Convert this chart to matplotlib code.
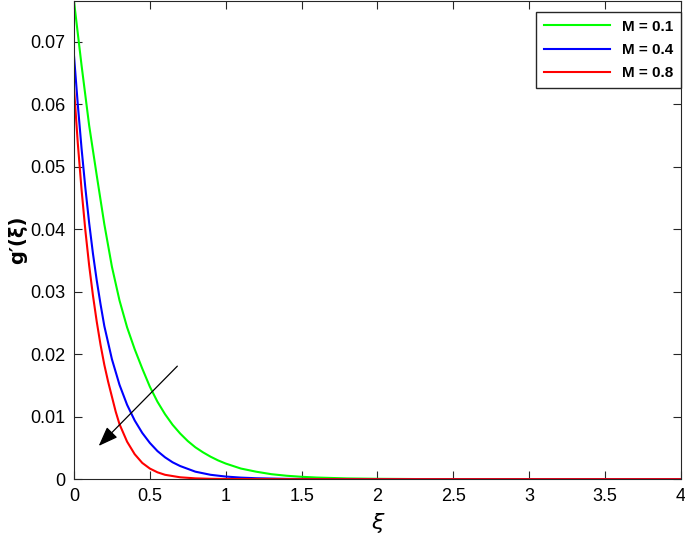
import numpy as np
import matplotlib.pyplot as plt

# Werte
x_m01 = [0, 0.05, 0.10, 0.15, 0.20, 0.25, 0.30, 0.35, 0.40, 0.45, 0.50, 0.55, 0.60, 0.65, 0.70, 0.75, 0.80,
         0.85, 0.90, 0.95, 1.00, 1.10, 1.20, 1.30, 1.40, 1.50, 1.60, 1.80, 2.00, 2.25, 2.50, 3.0, 4.0]
g_m01 = [0.0765, 0.0662, 0.0566, 0.0486, 0.0408, 0.0340, 0.0286, 0.0243, 0.0208, 0.0177, 0.0148, 0.0124,
         0.0104, 0.0087, 0.0073, 0.0061, 0.0051, 0.0043, 0.0036, 0.0030, 0.0025, 0.0017, 0.0012, 0.0008,
         0.00055, 0.00038, 0.00026, 0.00012, 0.00006, 0.00002, 0.00001, 0.0, 0.0]

x_m04 = [0, 0.025, 0.05, 0.075, 0.10, 0.125, 0.15, 0.175, 0.20, 0.25, 0.30, 0.35, 0.40, 0.45, 0.50, 0.55,
         0.60, 0.65, 0.70, 0.80, 0.90, 1.00, 1.10, 1.20, 1.40, 1.60, 2.0, 4.0]
g_m04 = [0.0678, 0.0600, 0.0529, 0.0466, 0.0410, 0.0361, 0.0318, 0.0280, 0.0245, 0.0192, 0.0151, 0.0119,
         0.0094, 0.0074, 0.0058, 0.0045, 0.0035, 0.0027, 0.0021, 0.0012, 0.0007, 0.00042, 0.00025, 0.00015,
         0.00005, 0.00002, 0.0, 0.0]

x_m08 = [0, 0.025, 0.05, 0.075, 0.10, 0.125, 0.15, 0.175, 0.20, 0.225, 0.25, 0.275, 0.30, 0.35, 0.40, 0.45,
         0.50, 0.55, 0.60, 0.70, 0.80, 0.90, 1.0, 1.2, 1.5, 4.0]
g_m08 = [0.0626, 0.0538, 0.0463, 0.0398, 0.0342, 0.0294, 0.0252, 0.0215, 0.0183, 0.0156, 0.0132, 0.0108,
         0.0088, 0.0060, 0.0040, 0.0026, 0.0017, 0.0011, 0.0007, 0.0003, 0.00013, 0.00006, 0.00003, 0.00001,
         0.0, 0.0]

labels = ["M = 0.1", "M = 0.4", "M = 0.8"]
colors = [(0, 1, 0), (0, 0, 1), (1, 0, 0)]

xticks = [0, 0.5, 1, 1.5, 2, 2.5, 3, 3.5, 4]
yticks = [0, 0.01, 0.02, 0.03, 0.04, 0.05, 0.06, 0.07]

plt.rcParams['font.family'] = ['Liberation Sans', 'DejaVu Sans']

fig = plt.figure(figsize=(6.85, 5.39), dpi=100)
ax = fig.add_axes([0.108, 0.111, 0.886, 0.887])

for xs, gs, lab, col in zip([x_m01, x_m04, x_m08], [g_m01, g_m04, g_m08], labels, colors):
    ax.plot(xs, gs, color=col, lw=1.5, label=lab, solid_joinstyle='round')

ax.set_xlim(0, 4)
ax.set_ylim(0, 0.0765)
ax.set_xticks(xticks)
ax.set_xticklabels([f"{t:g}" for t in xticks])
ax.set_yticks(yticks)
ax.set_yticklabels([f"{t:g}" for t in yticks])
ax.tick_params(direction='in', length=6, width=0.8, top=True, right=True,
               labelsize=13, color='#262626', pad=6)
for s in ax.spines.values():
    s.set_color('#262626')
    s.set_linewidth(0.8)

ax.set_xlabel("ξ", fontsize=16, style='italic', labelpad=6, family=['DejaVu Sans'])
ax.set_ylabel("g′(ξ)", fontsize=14, fontweight='bold', labelpad=2, family=['DejaVu Sans'])

# Pfeil: Richtung wachsender M
ax.annotate("", xy=(0.15, 0.0050), xytext=(0.694, 0.0184),
            arrowprops=dict(arrowstyle='-|>,head_length=1.2,head_width=0.45', color='black', lw=0.9))

leg = ax.legend(loc='upper right', bbox_to_anchor=(1.0, 0.977), borderaxespad=0, fontsize=11,
                handlelength=4.3, fancybox=False, framealpha=1, edgecolor='#262626',
                labelspacing=0.6, borderpad=0.5)
for t in leg.get_texts():
    t.set_fontweight('bold')

fig.savefig("out.png", dpi=100)
